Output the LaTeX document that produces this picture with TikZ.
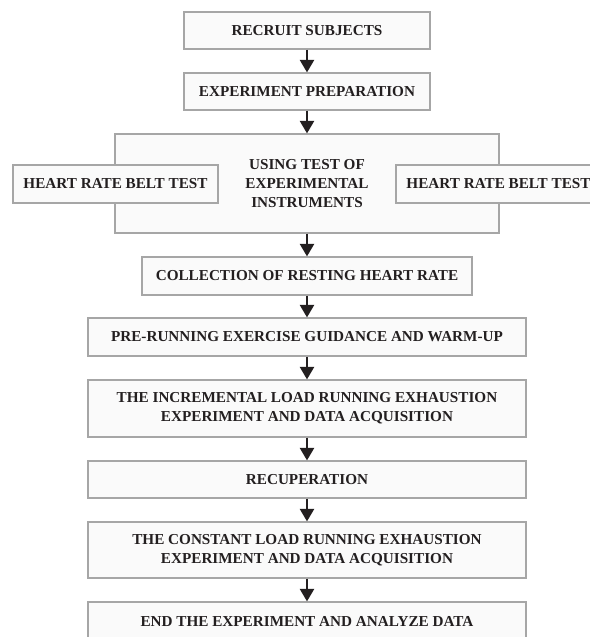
\documentclass[tikz,border=0pt]{standalone}
\usepackage{fontspec}
\setmainfont{Liberation Serif}
\usetikzlibrary{arrows.meta}
\definecolor{boxline}{HTML}{A6A6A6}
\definecolor{boxfill}{HTML}{FAFAFA}
\definecolor{ink}{HTML}{231F20}
\tikzset{
  box/.style={draw=boxline, fill=boxfill, line width=0.8pt, inner sep=0pt,
    align=center, text=ink, font=\bfseries\fontsize{11.4}{14.25}\selectfont},
  wide/.style={box, minimum width=328.5pt},
  flow/.style={ink, line width=2pt, -{Triangle[length=9.5pt,width=10.5pt]}},
}
\begin{document}
\begin{tikzpicture}[x=0.75pt,y=-0.75pt]
\useasboundingbox (0,0) rectangle (590,637);
% first steps
\node[box, minimum width=184.5pt, minimum height=27.75pt] (recruit) at (307,30.5) {RECRUIT SUBJECTS};
\node[box, minimum width=184.5pt, minimum height=27.75pt] (prep) at (307,91.5) {EXPERIMENT PREPARATION};
% instrument test with the two belt tests
\node[box, minimum width=288pt, minimum height=74.25pt] (instr) at (307,183.5) {USING TEST OF\\EXPERIMENTAL\\INSTRUMENTS};
\node[box, minimum width=153.75pt, minimum height=28.5pt] (beltL) at (115.5,184) {HEART RATE BELT TEST};
\node[box, minimum width=153.75pt, minimum height=28.5pt] (beltR) at (498.5,184) {HEART RATE BELT TEST};
% running part
\node[box, minimum width=247.5pt, minimum height=28.5pt] (rest) at (307,276) {COLLECTION OF RESTING HEART RATE};
\node[wide, minimum height=28.5pt] (warmup) at (307,337) {PRE-RUNNING EXERCISE GUIDANCE AND WARM-UP};
\node[wide, minimum height=42.75pt] (incr) at (307,408.5) {THE INCREMENTAL LOAD RUNNING EXHAUSTION\\EXPERIMENT AND DATA ACQUISITION};
\node[wide, minimum height=27.75pt] (recup) at (307,479.5) {RECUPERATION};
\node[wide, minimum height=42pt] (const) at (307,550) {THE CONSTANT LOAD RUNNING EXHAUSTION\\EXPERIMENT AND DATA ACQUISITION};
\node[wide, minimum height=28.5pt] (finish) at (307,621) {END THE EXPERIMENT AND ANALYZE DATA};
% arrows
\draw[flow] (recruit) -- (prep);
\draw[flow] (prep) -- (instr);
\draw[flow] (instr) -- (rest);
\draw[flow] (rest) -- (warmup);
\draw[flow] (warmup) -- (incr);
\draw[flow] (incr) -- (recup);
\draw[flow] (recup) -- (const);
\draw[flow] (const) -- (finish);
\end{tikzpicture}
\end{document}
